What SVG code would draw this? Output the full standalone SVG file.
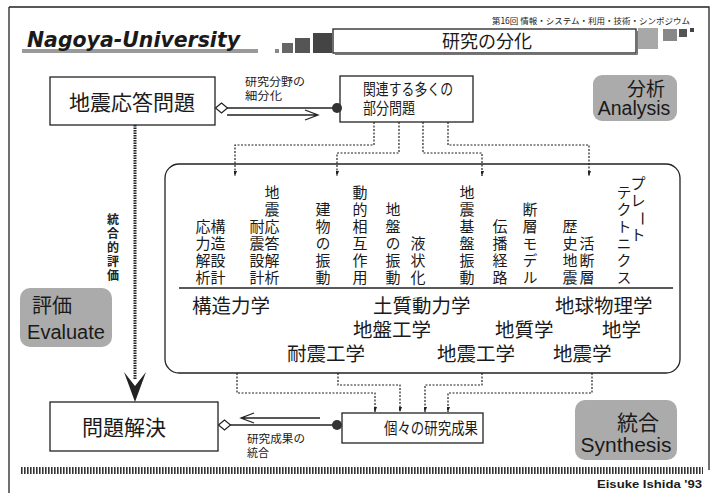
<svg xmlns="http://www.w3.org/2000/svg" width="715" height="493" viewBox="0 0 715 493">
<defs>
<style>
.jp{font-family:"Noto Sans CJK JP","Noto Sans",sans-serif;fill:#1a1a1a}
.en{font-family:"Liberation Sans",Arial,sans-serif;fill:#1a1a1a}
.box{fill:#fff;stroke:#222;stroke-width:1.3}
.gbox{fill:#ababab;stroke:none}
.dot{fill:none;stroke:#222;stroke-width:1.2;stroke-dasharray:2 1.5}
.ln{fill:none;stroke:#222;stroke-width:1.3}
.vt{font-family:"Noto Sans CJK JP",sans-serif;font-size:15px;fill:#1a1a1a;writing-mode:vertical-rl;text-orientation:upright;letter-spacing:2px}
.big{font-size:21px}
.mid{font-size:19.5px}
.sm{font-size:11px}
</style>
<marker id="ah" viewBox="-5 -12 10 13" markerWidth="10" markerHeight="13" refX="0" refY="0" orient="auto-start-reverse" markerUnits="userSpaceOnUse">
<path d="M-4.5,-11 L0,0 L4.5,-11 L0,-6 Z" fill="#222" transform="rotate(-90)"/>
</marker>
<pattern id="hatch" width="3" height="8" patternUnits="userSpaceOnUse">
<rect x="0" y="0" width="1.6" height="8" fill="#333"/>
</pattern>
</defs>
<rect x="0" y="0" width="715" height="493" fill="#fff"/>

<g id="frame">
<path class="ln" d="M9,7 H709 V470"/>
<path class="ln" d="M9,7 V493"/>
<rect x="20" y="467" width="683" height="7" fill="url(#hatch)"/>
<text class="en" x="597" y="488" font-size="10.5" font-weight="bold" textLength="105" lengthAdjust="spacingAndGlyphs">Eisuke Ishida  '93</text>
</g>

<g id="header">
<rect x="22" y="49" width="236" height="4" fill="#9a9a9a"/>
<text x="27" y="47" font-family="'DejaVu Sans',sans-serif" font-size="21" font-weight="bold" font-style="italic" fill="#1a1a1a" textLength="213" lengthAdjust="spacingAndGlyphs">Nagoya-University</text>
<rect x="275" y="49" width="4" height="4" fill="#888"/>
<rect x="282" y="43" width="11" height="10" fill="#666"/>
<rect x="295" y="38" width="15" height="15" fill="#555"/>
<rect x="313" y="33" width="19" height="20" fill="#444"/>
<rect x="333" y="29" width="303" height="24" class="box"/>
<path d="M335,54.5 H637.5 V31" fill="none" stroke="#777" stroke-width="1"/>
<text class="jp" x="487" y="48" font-size="18" text-anchor="middle">研究の分化</text>
<text class="jp" x="690" y="24" font-size="8.5" text-anchor="end">第16回 情報・システム・利用・技術・シンポジウム</text>
<rect x="638" y="28" width="20" height="21" fill="#a8a8a8"/>
<rect x="663" y="29" width="14" height="12" fill="#888"/>
<rect x="679" y="29" width="8" height="8" fill="#555"/>
<rect x="690" y="28" width="4" height="4" fill="#444"/>
</g>

<g id="n-jishin">
<rect class="box" x="50" y="77" width="165" height="48"/>
<text class="jp big" x="132" y="110" text-anchor="middle">地震応答問題</text>
</g>

<g id="n-bubun">
<rect class="box" x="340" y="76" width="133" height="46"/>
<text class="jp" x="363" y="95" font-size="15.5" textLength="90" lengthAdjust="spacingAndGlyphs">関連する多くの</text>
<text class="jp" x="363" y="114" font-size="15.5" textLength="52" lengthAdjust="spacingAndGlyphs">部分問題</text>
</g>

<g id="n-analysis">
<rect class="gbox" x="593" y="75" width="84" height="46" rx="9"/>
<text class="jp" x="665" y="96" font-size="19" text-anchor="end">分析</text>
<text class="en" x="634" y="115" font-size="19.5" text-anchor="middle">Analysis</text>
</g>

<g id="n-fields">
<rect class="box" x="165" y="164" width="515" height="209" rx="14"/>
<line class="ln" x1="179" y1="288" x2="673" y2="288"/>
<text class="vt" x="203" y="219">応力解析</text>
<text class="vt" x="218" y="219">構造設計</text>
<text class="vt" x="257" y="219">耐震設計</text>
<text class="vt" x="272" y="185">地震応答解析</text>
<text class="vt" x="323" y="202">建物の振動</text>
<text class="vt" x="360" y="185">動的相互作用</text>
<text class="vt" x="393" y="202">地盤の振動</text>
<text class="vt" x="418" y="236">液状化</text>
<text class="vt" x="467" y="185">地震基盤振動</text>
<text class="vt" x="500" y="219">伝播経路</text>
<text class="vt" x="530" y="202">断層モデル</text>
<text class="vt" x="570" y="219">歴史地震</text>
<text class="vt" x="587" y="236">活断層</text>
<text class="jp" font-size="15" text-anchor="middle" x="638 638 644.5 638" y="189 206 211 240" rotate="0 0 90 0">プレート</text>
<text class="vt" x="624" y="185">テクトニクス</text>
<text class="jp mid" x="192" y="313">構造力学</text>
<text class="jp mid" x="373" y="313">土質動力学</text>
<text class="jp mid" x="555" y="313">地球物理学</text>
<text class="jp mid" x="353" y="337">地盤工学</text>
<text class="jp mid" x="495" y="337">地質学</text>
<text class="jp mid" x="602" y="337">地学</text>
<text class="jp mid" x="287" y="361">耐震工学</text>
<text class="jp mid" x="437" y="361">地震工学</text>
<text class="jp mid" x="553" y="361">地震学</text>
</g>

<g id="n-evaluate">
<rect class="gbox" x="20" y="288" width="92" height="59" rx="10"/>
<text class="jp" x="32" y="313" font-size="20">評価</text>
<text class="en" x="66" y="339" font-size="20" text-anchor="middle">Evaluate</text>
</g>

<g id="n-kaiketsu">
<rect class="box" x="50" y="402" width="168" height="49"/>
<text class="jp big" x="124" y="435" text-anchor="middle">問題解決</text>
</g>

<g id="n-seika">
<rect class="box" x="342" y="413" width="141" height="30"/>
<text class="jp" x="384" y="434" font-size="16" textLength="94" lengthAdjust="spacingAndGlyphs">個々の研究成果</text>
</g>

<g id="n-synthesis">
<rect class="gbox" x="575" y="400" width="102" height="60" rx="10"/>
<text class="jp" x="638" y="430" font-size="21" text-anchor="middle">統合</text>
<text class="en" x="626" y="452" font-size="21" text-anchor="middle">Synthesis</text>
</g>

<g id="connectors">
<line class="ln" x1="227" y1="108" x2="335" y2="108"/>
<path d="M215.5,108 L221.5,103 L227.5,108 L221.5,113 Z" fill="#fff" stroke="#222" stroke-width="1.2"/>
<circle cx="337" cy="108" r="5" fill="#333"/>
<path class="ln" d="M227,115 H318 M305,110 L318,115 L305,120" stroke-width="1.2"/>
<text class="jp sm" x="245" y="86" textLength="60" lengthAdjust="spacingAndGlyphs">研究分野の</text>
<text class="jp sm" x="245" y="100" textLength="37" lengthAdjust="spacingAndGlyphs">細分化</text>

<line x1="135" y1="125" x2="135" y2="380" stroke="#222" stroke-width="3" stroke-dasharray="1.5 1"/>
<path d="M124,372 L135,402 L146,372 L135,386 Z" fill="#222"/>
<text x="113" y="213" style="writing-mode:vertical-rl" font-family="'Noto Sans CJK JP',sans-serif" font-size="12" font-weight="bold" fill="#222" letter-spacing="2">統合的評価</text>

<path class="dot" d="M374,122 V145 H235 V176" marker-end="url(#ah)"/>
<path class="dot" d="M399,122 V153 H337 V176" marker-end="url(#ah)"/>
<path class="dot" d="M423,122 V153 H482 V176" marker-end="url(#ah)"/>
<path class="dot" d="M448,122 V145 H589 V176" marker-end="url(#ah)"/>

<path class="dot" d="M237,373 V393 H375 V412" marker-end="url(#ah)"/>
<path class="dot" d="M338,373 V385 H400 V412" marker-end="url(#ah)"/>
<path class="dot" d="M482,373 V385 H425 V412" marker-end="url(#ah)"/>
<path class="dot" d="M592,373 V393 H448 V412" marker-end="url(#ah)"/>

<line class="ln" x1="230" y1="425" x2="335" y2="425"/>
<path d="M218.5,425 L224.5,420 L230.5,425 L224.5,430 Z" fill="#fff" stroke="#222" stroke-width="1.2"/>
<circle cx="337" cy="425" r="5" fill="#333"/>
<path class="ln" d="M320,418 H241 M254,413 L241,418 L254,423" stroke-width="1.2"/>
<text class="jp sm" x="247" y="443" textLength="58" lengthAdjust="spacingAndGlyphs">研究成果の</text>
<text class="jp sm" x="247" y="457" textLength="22" lengthAdjust="spacingAndGlyphs">統合</text>
</g>
</svg>
